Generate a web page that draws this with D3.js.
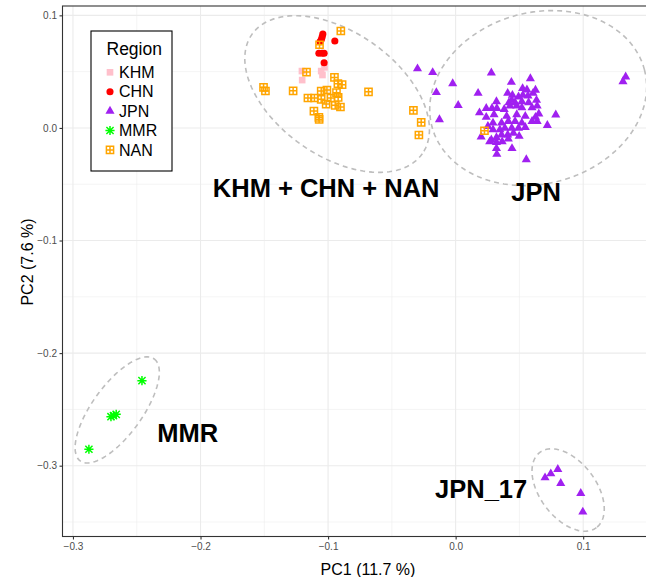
<!DOCTYPE html>
<html>
<head>
<meta charset="utf-8">
<script src="https://cdn.jsdelivr.net/npm/d3@7"></script>
<style>
  body { margin: 0; background: #fff; }
  text { font-family: "Liberation Sans", Arial, sans-serif; }
</style>
</head>
<body>
<div id="chart"></div>
<script>
// PCA scores, [PC1, PC2]
const khm = [[-0.1205, 0.0505], [-0.1203, 0.0425], [-0.1054, 0.0505], [-0.1044, 0.0470], [-0.1028, 0.0538]]
const chn = [[-0.1041, 0.0834], [-0.1046, 0.0810], [-0.1052, 0.0787], [-0.1062, 0.0766], [-0.0947, 0.0772],
  [-0.1072, 0.0663], [-0.1046, 0.0663], [-0.1031, 0.0663], [-0.1031, 0.0579]]
const jpn = [[-0.0299, 0.0526], [-0.0180, 0.0493], [-0.0023, 0.0394], [-0.0151, 0.0315], [0.0020, 0.0201],
  [-0.0127, 0.0074], [0.0176, 0.0309], [0.0280, 0.0490], [0.0437, 0.0406], [0.0586, 0.0439], [0.1333, 0.0454],
  [0.1312, 0.0412], [0.0785, 0.0116], [0.0719, 0.0023], [0.0554, -0.0281], [0.0323, -0.0233], [0.0442, -0.0182],
  [0.0200, -0.0079], [0.0498, -0.0073],
  [0.0525, 0.0351], [0.0559, 0.0339], [0.0626, 0.0336], [0.0408, 0.0309], [0.0607, 0.0309], [0.0445, 0.0291],
  [0.0493, 0.0276], [0.0527, 0.0291], [0.0567, 0.0285], [0.0634, 0.0246], [0.0320, 0.0234], [0.0418, 0.0225],
  [0.0466, 0.0225], [0.0519, 0.0234], [0.0572, 0.0225], [0.0440, 0.0246],
  [0.0240, 0.0174], [0.0285, 0.0174], [0.0323, 0.0174], [0.0381, 0.0165], [0.0426, 0.0195], [0.0479, 0.0195],
  [0.0519, 0.0180], [0.0599, 0.0180], [0.0639, 0.0195], [0.0652, 0.0125], [0.0626, 0.0095], [0.0546, 0.0104],
  [0.0479, 0.0119], [0.0400, 0.0104], [0.0301, 0.0119], [0.0240, 0.0095], [0.0187, 0.0135],
  [0.0293, 0.0044], [0.0360, 0.0044], [0.0413, 0.0059], [0.0466, 0.0059], [0.0519, 0.0044], [0.0599, 0.0059],
  [0.0639, 0.0059], [0.0293, -0.0016], [0.0347, -0.0016], [0.0386, -0.0001], [0.0440, -0.0001], [0.0493, -0.0001],
  [0.0546, 0.0005], [0.0253, 0.0014],
  [0.0280, -0.0106], [0.0320, -0.0085], [0.0360, -0.0061], [0.0408, -0.0061], [0.0453, -0.0046], [0.0320, -0.0128],
  [0.0365, -0.0122], [0.0413, -0.0097], [0.0267, -0.0122], [0.0320, -0.0182]]
const jpn17 = [[0.0701, -0.3107], [0.0746, -0.3071], [0.0801, -0.3032], [0.0824, -0.3156], [0.0981, -0.3245], [0.0997, -0.3411]]
const mmr = [[-0.2459, -0.2245], [-0.2702, -0.2565], [-0.2661, -0.2544], [-0.2682, -0.2556], [-0.2875, -0.2854]]
const nan = [[-0.1506, 0.0361], [-0.1491, 0.0328], [-0.1274, 0.0330], [-0.1169, 0.0496], [-0.1067, 0.0739],
  [-0.0900, 0.0861], [-0.0950, 0.0449], [-0.0923, 0.0393], [-0.0890, 0.0384], [-0.1054, 0.0328], [-0.1009, 0.0337],
  [-0.1158, 0.0266], [-0.1107, 0.0266], [-0.1054, 0.0254], [-0.0978, 0.0266], [-0.0934, 0.0313], [-0.0921, 0.0272],
  [-0.1015, 0.0212], [-0.0944, 0.0201], [-0.0903, 0.0186], [-0.1111, 0.0150], [-0.1072, 0.0094], [-0.1070, 0.0076],
  [-0.0683, 0.0321], [-0.0331, 0.0156], [-0.0270, 0.0050], [-0.0288, -0.0063], [0.0226, -0.0025]]

const regions = ["KHM", "CHN", "JPN", "MMR", "NAN"]
const regionColors = ["#FFC0CB", "#FF0000", "#A020F0", "#00FF00", "#FFA500"]

// group ellipses: centre, major half-axis vector, minor half-axis vector (data units)
const ellipseCenters = [[-0.0929, 0.0301], [0.0647, 0.0265], [-0.2653, -0.2505], [0.0882, -0.3216]]
const ellipseMajor = [[0.0668, -0.0530], [0.0833, 0.0253], [0.0290, 0.0453], [0.0222, -0.0334]]
const ellipseMinor = [[-0.0279, -0.0451], [0.0171, -0.0735], [0.0158, -0.0131], [-0.0176, -0.0150]]

const groupLabels = ["KHM + CHN + NAN", "JPN", "MMR", "JPN_17"]
const groupLabelPos = [[-0.1015, -0.0528], [0.0631, -0.0570], [-0.2100, -0.2710], [0.0200, -0.3207]]

const xTicks = [-0.3, -0.2, -0.1, 0.0, 0.1]
const yTicks = [-0.3, -0.2, -0.1, 0.0, 0.1]
const xMinor = [-0.25, -0.15, -0.05, 0.05, 0.15]
const yMinor = [-0.35, -0.25, -0.15, -0.05, 0.05]

const width = 646, height = 577
const panel = { left: 62.5, right: 673.5, top: 6, bottom: 536.5 }

const x = d3.scaleLinear().domain([-0.3082, 0.1708]).range([panel.left, panel.right])
const y = d3.scaleLinear().domain([-0.3629, 0.1083]).range([panel.bottom, panel.top])

const svg = d3.select("#chart").append("svg")
  .attr("width", width).attr("height", height)

// grid
const grid = svg.append("g").attr("stroke", "#EBEBEB").attr("fill", "none")
grid.selectAll(".xmin").data(xMinor).join("line").attr("class", "xmin")
  .attr("x1", d => x(d)).attr("x2", d => x(d)).attr("y1", panel.top).attr("y2", panel.bottom)
  .attr("stroke-width", 0.55)
grid.selectAll(".ymin").data(yMinor).join("line").attr("class", "ymin")
  .attr("y1", d => y(d)).attr("y2", d => y(d)).attr("x1", panel.left).attr("x2", panel.right)
  .attr("stroke-width", 0.55)
grid.selectAll(".xmaj").data(xTicks).join("line").attr("class", "xmaj")
  .attr("x1", d => x(d)).attr("x2", d => x(d)).attr("y1", panel.top).attr("y2", panel.bottom)
  .attr("stroke-width", 1.1)
grid.selectAll(".ymaj").data(yTicks).join("line").attr("class", "ymaj")
  .attr("y1", d => y(d)).attr("y2", d => y(d)).attr("x1", panel.left).attr("x2", panel.right)
  .attr("stroke-width", 1.1)

// ellipses
const ellipsePoints = i => d3.range(0, 121).map(k => {
  const t = k / 120 * 2 * Math.PI
  const c = ellipseCenters[i], a = ellipseMajor[i], b = ellipseMinor[i]
  return [c[0] + Math.cos(t) * a[0] + Math.sin(t) * b[0], c[1] + Math.cos(t) * a[1] + Math.sin(t) * b[1]]
})
const line = d3.line().x(d => x(d[0])).y(d => y(d[1]))
svg.append("g").selectAll("path")
  .data(ellipseCenters.map((c, i) => ellipsePoints(i)))
  .join("path")
  .attr("d", line)
  .attr("fill", "none")
  .attr("stroke", "#BEBEBE")
  .attr("stroke-width", 1.6)
  .attr("stroke-dasharray", "5,4")

// marker shapes
const square = d3.symbol(d3.symbolSquare, 44)()
const circle = d3.symbol(d3.symbolCircle, 40)()
const triangle = d3.symbol(d3.symbolTriangle, 36)()
const star = r => {
  const q = r * 0.78
  return `M${-r},0L${r},0M0,${-r}L0,${r}M${-q},${-q}L${q},${q}M${-q},${q}L${q},${-q}`
}
const squarePlus = r => `M${-r},${-r}H${r}V${r}H${-r}ZM${-r},0H${r}M0,${-r}V${r}`

function drawMarker(g, region) {
  const col = regionColors[regions.indexOf(region)]
  if (region === "KHM") g.append("path").attr("d", square).attr("fill", col)
  if (region === "CHN") g.append("path").attr("d", circle).attr("fill", col)
  if (region === "JPN") g.append("path").attr("d", triangle).attr("fill", col)
  if (region === "MMR") g.append("path").attr("d", star(4.6)).attr("fill", "none").attr("stroke", col).attr("stroke-width", 1.5)
  if (region === "NAN") g.append("path").attr("d", squarePlus(3.6)).attr("fill", "none").attr("stroke", col).attr("stroke-width", 1.5)
}

const series = [["KHM", khm], ["CHN", chn], ["JPN", jpn.concat(jpn17)], ["MMR", mmr], ["NAN", nan]]
const points = svg.append("g")
series.forEach(([region, pts]) => {
  points.append("g").selectAll("g")
    .data(pts).join("g")
    .attr("transform", d => `translate(${x(d[0])},${y(d[1])})`)
    .each(function () { drawMarker(d3.select(this), region) })
})

// group labels
svg.append("g").selectAll("text")
  .data(groupLabels).join("text")
  .attr("x", (d, i) => x(groupLabelPos[i][0]))
  .attr("y", (d, i) => y(groupLabelPos[i][1]))
  .attr("dy", "0.36em")
  .attr("text-anchor", "middle")
  .attr("font-size", 25.5)
  .attr("font-weight", "bold")
  .attr("fill", "#000")
  .text(d => d)

// panel border
svg.append("rect")
  .attr("x", panel.left).attr("y", panel.top)
  .attr("width", panel.right - panel.left).attr("height", panel.bottom - panel.top)
  .attr("fill", "none").attr("stroke", "#333").attr("stroke-width", 1.1)

// axes
const xAxis = svg.append("g")
  .attr("transform", `translate(0,${panel.bottom})`)
  .call(d3.axisBottom(x).tickValues(xTicks).tickSize(3).tickPadding(3).tickFormat(d3.format(".1f")))
const yAxis = svg.append("g")
  .attr("transform", `translate(${panel.left},0)`)
  .call(d3.axisLeft(y).tickValues(yTicks).tickSize(3).tickPadding(2.5).tickFormat(d3.format(".1f")))
;[xAxis, yAxis].forEach(a => {
  a.select(".domain").remove()
  a.selectAll("line").attr("stroke", "#333").attr("stroke-width", 1.1)
  a.selectAll("text").attr("fill", "#4D4D4D").attr("font-size", 10)
    .attr("font-family", "'Liberation Sans', Arial, sans-serif")
})

// axis titles
svg.append("text")
  .attr("x", 368).attr("y", 575)
  .attr("text-anchor", "middle")
  .attr("font-size", 16)
  .text("PC1 (11.7 %)")
svg.append("text")
  .attr("transform", "rotate(-90)")
  .attr("x", -262).attr("y", 33)
  .attr("text-anchor", "middle")
  .attr("font-size", 16)
  .text("PC2 (7.6 %)")

// legend
const legend = svg.append("g")
legend.append("rect")
  .attr("x", 91).attr("y", 31).attr("width", 81).attr("height", 140)
  .attr("fill", "#fff").attr("stroke", "#000").attr("stroke-width", 1.1)
legend.append("text")
  .attr("x", 106.5).attr("y", 55)
  .attr("font-size", 17.5)
  .text("Region")
const items = legend.selectAll(".item")
  .data(regions).join("g").attr("class", "item")
  .attr("transform", (d, i) => `translate(110,${72.3 + i * 19.4})`)
items.each(function (d) { drawMarker(d3.select(this), d) })
items.append("text")
  .attr("x", 9).attr("dy", "0.36em")
  .attr("font-size", 16)
  .text(d => d)
</script>
</body>
</html>
